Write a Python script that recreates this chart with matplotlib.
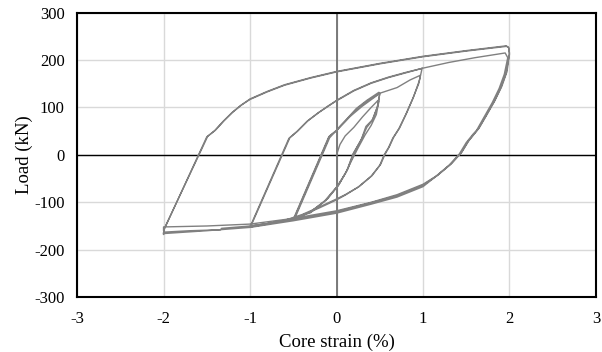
import matplotlib
matplotlib.use("Agg")
import matplotlib.pyplot as plt
import numpy as np

# Hysteresis history, as (strain %, load kN) pairs
elastic = [(0, 0), (0.04, 22), (0.1, 40), (0.2, 58), (0.3, 80), (0.4, 100), (0.48, 115)]

cyc05_a = [(0.49, 113), (0.46, 85), (0.4, 62), (0.33, 42), (0.25, 15), (0.18, -10),
           (0.1, -40), (0.0, -68), (-0.15, -100), (-0.3, -120), (-0.48, -133),
           (-0.08, 36), (-0.03, 46), (0.05, 62), (0.15, 80), (0.3, 103), (0.48, 127)]
cyc05_b = [(0.5, 130), (0.48, 105), (0.42, 75), (0.34, 60), (0.29, 34), (0.2, 4),
           (0.13, -30), (0.03, -62), (-0.1, -92), (-0.3, -120), (-0.5, -136),
           (-0.09, 38), (0.0, 52), (0.1, 72), (0.23, 98), (0.35, 115), (0.49, 132)]
cyc05_c = [(0.5, 128), (0.47, 100), (0.41, 72), (0.35, 58), (0.28, 30), (0.19, 2),
           (0.12, -33), (0.02, -65), (-0.12, -95), (-0.3, -122), (-0.49, -134),
           (-0.08, 40), (0.0, 51), (0.1, 70), (0.23, 96), (0.35, 113), (0.5, 130)]

cyc10_a = [(0.7, 142), (0.85, 158), (0.97, 168), (0.95, 150), (0.88, 118), (0.8, 85),
           (0.72, 55), (0.65, 35), (0.6, 15), (0.55, 0), (0.5, -22), (0.4, -45),
           (0.25, -68), (0.1, -84), (0.0, -93), (-0.2, -110), (-0.4, -126),
           (-0.6, -138), (-0.8, -145), (-0.99, -150),
           (-0.54, 36), (-0.45, 50), (-0.33, 72), (-0.2, 90), (-0.1, 103),
           (0.0, 114), (0.2, 135), (0.4, 151), (0.6, 163), (0.8, 173), (0.98, 182)]
cyc10_b = [(0.99, 183), (0.96, 158), (0.89, 122), (0.81, 88), (0.73, 57), (0.66, 37),
           (0.61, 17), (0.56, 1), (0.51, -20), (0.41, -44), (0.26, -67), (0.1, -85),
           (0.0, -95), (-0.2, -112), (-0.4, -128), (-0.6, -139), (-0.8, -146),
           (-1.0, -152),
           (-0.55, 35), (-0.46, 49), (-0.34, 71), (-0.21, 89), (-0.1, 102),
           (0.0, 115), (0.2, 136), (0.4, 152), (0.6, 164), (0.8, 174), (1.0, 183)]

cyc20_a = [(1.3, 195), (1.6, 205), (1.95, 215), (1.98, 205), (1.94, 170), (1.88, 140),
           (1.8, 110), (1.7, 78), (1.62, 52), (1.58, 44), (1.5, 26), (1.42, 2),
           (1.3, -22), (1.15, -45), (1.0, -62), (0.7, -84), (0.4, -100), (0.0, -118),
           (-0.5, -134), (-1.0, -146), (-1.5, -150), (-2.0, -152),
           (-2.0, -160), (-1.5, 38), (-1.4, 52), (-1.3, 72), (-1.2, 90),
           (-1.1, 105), (-1.0, 117), (-0.8, 133), (-0.6, 147), (-0.3, 162),
           (0.0, 175), (0.5, 192), (1.0, 207), (1.5, 219), (1.97, 229)]
cyc20_b = [(1.99, 227), (2.0, 215), (1.96, 172), (1.9, 142), (1.82, 112), (1.72, 80),
           (1.64, 55), (1.6, 46), (1.52, 28), (1.44, 4), (1.32, -20), (1.17, -43),
           (1.0, -64), (0.7, -86), (0.4, -101), (0.0, -120), (-0.5, -137),
           (-1.0, -150), (-1.33, -155), (-1.34, -158), (-1.7, -160), (-2.0, -163),
           (-2.0, -168), (-1.99, -155), (-1.49, 39), (-1.41, 51), (-1.31, 71),
           (-1.21, 89), (-1.11, 104), (-1.0, 118), (-0.8, 134), (-0.6, 148),
           (-0.3, 163), (0.0, 176), (0.5, 193), (1.0, 208), (1.5, 220), (1.96, 230)]
cyc20_c = [(1.99, 226), (2.0, 212), (1.97, 175), (1.91, 144), (1.83, 114),
           (1.73, 82), (1.65, 57), (1.61, 48), (1.53, 30), (1.45, 6), (1.33, -18),
           (1.18, -41), (1.0, -67), (0.7, -89), (0.4, -104), (0.0, -123),
           (-0.5, -139), (-1.0, -153), (-1.5, -160), (-2.0, -166)]

history = elastic + cyc05_a + cyc05_b + cyc05_c + cyc10_a + cyc10_b + cyc20_a + cyc20_b + cyc20_c
strain = np.array([p[0] for p in history])
load = np.array([p[1] for p in history])

plt.rcParams['font.family'] = ['Liberation Serif', 'DejaVu Serif']
plt.rcParams['axes.unicode_minus'] = False

fig = plt.figure(figsize=(6.02, 3.52), dpi=100)
ax = fig.add_axes([0.128, 0.156, 0.862, 0.808])
ax.set_axisbelow(True)

ax.grid(True, color='#d9d9d9', linewidth=1.0)
ax.axhline(0, color='black', linewidth=1.0, zorder=2)
ax.axvline(0, color='#707070', linewidth=1.3, zorder=2)
ax.plot(strain, load, color='#808080', linewidth=1.0, zorder=3)

ax.set_xlim(-3, 3)
ax.set_ylim(-300, 300)
ax.set_xticks(np.arange(-3, 4, 1))
ax.set_yticks(np.arange(-300, 301, 100))
ax.tick_params(length=0, labelsize=12, pad=9)
ax.tick_params(axis='x', pad=10)
for s in ax.spines.values():
    s.set_linewidth(1.5)
    s.set_color('black')
    s.set_zorder(4)
ax.set_xlabel('Core strain (%)', fontsize=13.5, labelpad=5)
ax.set_ylabel('Load (kN)', fontsize=13.5, labelpad=1)

fig.savefig('out.png', dpi=100)
